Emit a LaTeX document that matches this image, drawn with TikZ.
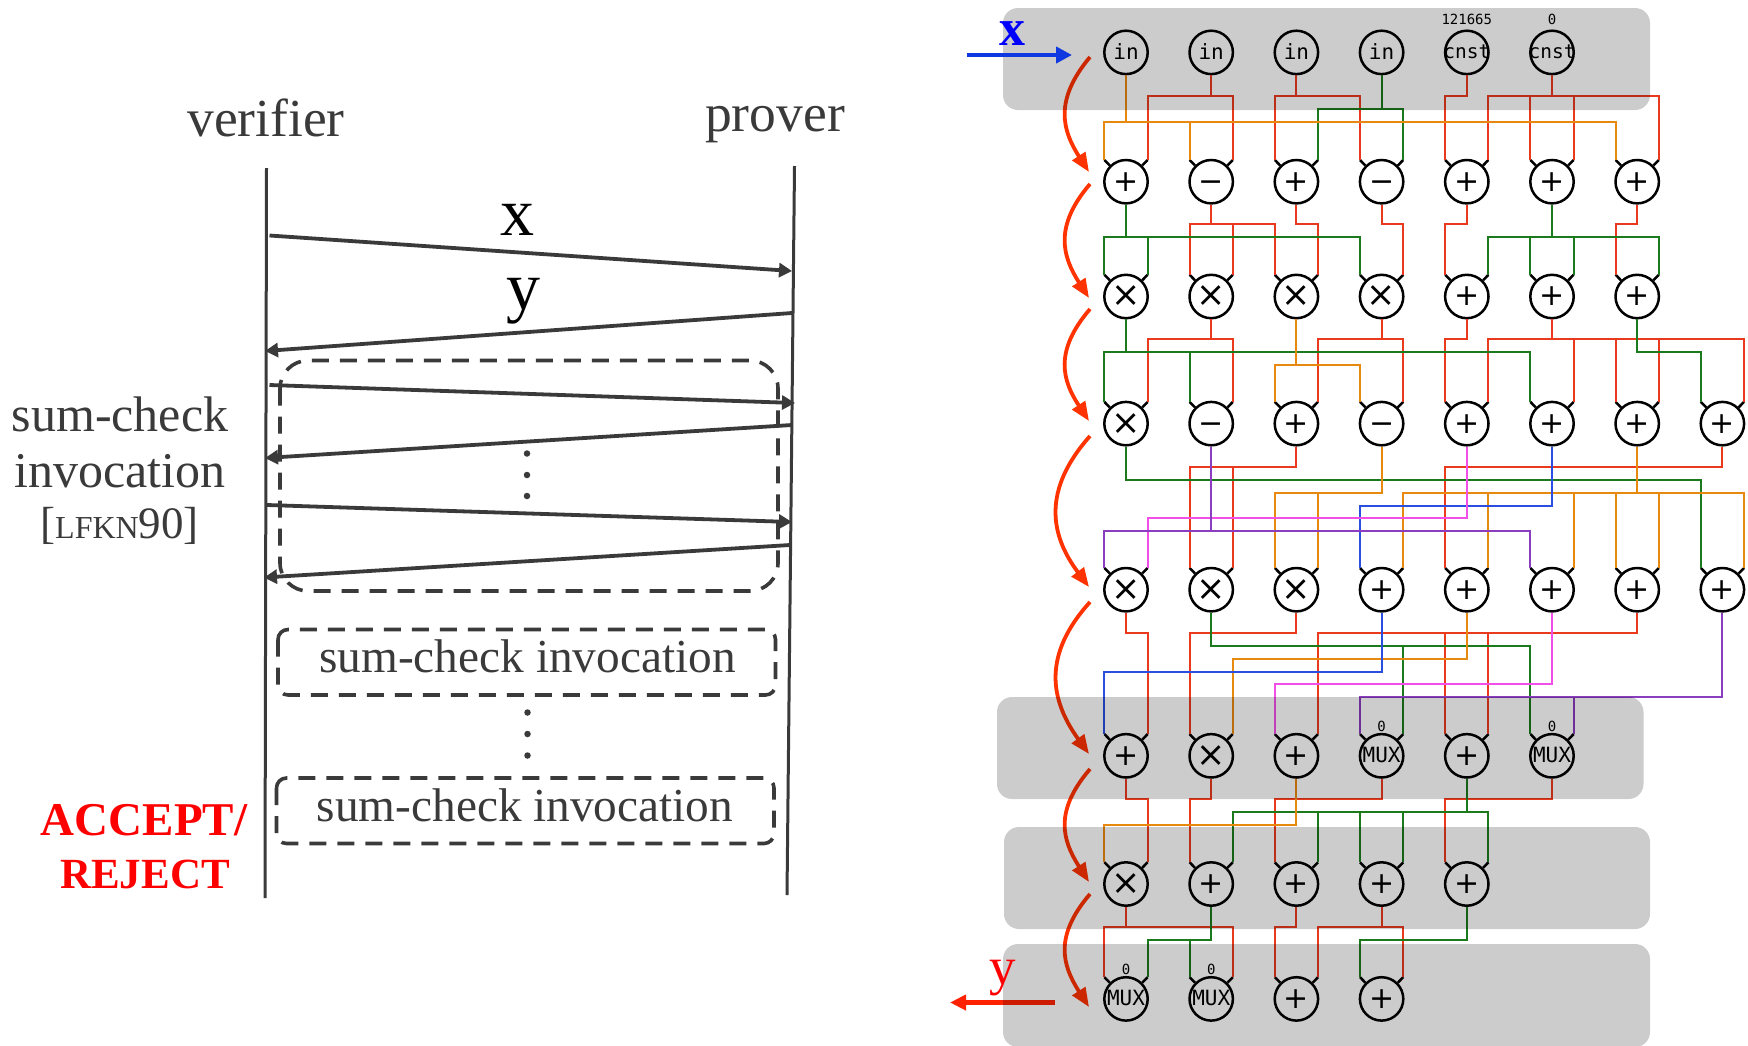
\documentclass[tikz,border=0pt]{standalone}
\usepackage{fontspec}
\setmainfont{Liberation Serif}
\newfontfamily\monofam{DejaVu Sans Mono}
\newfontfamily\opfam{DejaVu Sans}
\usetikzlibrary{calc,arrows.meta}
\definecolor{ink}{HTML}{3A3A3A}
\definecolor{wred}{HTML}{EA3A1E}
\definecolor{worange}{HTML}{E8890F}
\definecolor{wgreen}{HTML}{1B7A1B}
\definecolor{wblue}{HTML}{2A4FE0}
\definecolor{wpurple}{HTML}{8A3DBE}
\definecolor{wpink}{HTML}{F24FE8}
\definecolor{flow}{HTML}{FF3300}
\definecolor{inblue}{HTML}{1038E0}
\definecolor{outred}{HTML}{FF2200}
\newcommand{\fs}[1]{\fontsize{#1}{#1}\selectfont}
\newcommand{\plusop}{\makebox[0pt]{\opfam\fs{30}+}}
\newcommand{\minusop}{\makebox[0pt]{\opfam\fs{30}\vphantom{+}−}}
\newcommand{\timesop}{\makebox[0pt]{\opfam\fs{35}×}}
\newcommand{\muxop}{\raisebox{1.5pt}{\makebox[0pt]{\monofam\fs{21}MUX}}}
\newcommand{\inop}{\raisebox{1.5pt}{\makebox[0pt]{\monofam\fs{21}in}}}
\newcommand{\cnstop}{\raisebox{2pt}{\makebox[0pt]{\monofam\fs{19.5}cnst}}}
% name, column, row y, label
\newcommand{\gatetop}[4]{\node[gatenode] (#1) at ({1126+85.2*#2},#3) {#4};}
\newcommand{\gate}[4]{\gatetop{#1}{#2}{#3}{#4}
  \coordinate (#1-L) at ($(#1)+(-21.6,-21.7)$);
  \coordinate (#1-R) at ($(#1)+(21.6,-21.7)$);
  \draw[horn] (#1-L) -- (#1.north west);
  \draw[horn] (#1-R) -- (#1.north east);}
% colour, source gate, bus level, target ports
\newcommand{\wire}[4]{\foreach \t in {#4}{\draw[wirepath,#1] (#2.south) -- (#2.south |- 0,#3) -- (\t |- 0,#3) -- (\t);}}
\tikzset{
  gatenode/.style={circle,draw=black,fill=white,line width=2.5pt,minimum size=43.4pt,inner sep=0pt,text=black},
  horn/.style={draw=black,line width=2.5pt},
  wirepath/.style={line width=2pt,miter limit=10},
  panel/.style={fill=black,fill opacity=0.2,rounded corners=15pt,draw=none},
  flowarrow/.style={flow,line width=3.8pt,-{Triangle[length=19pt,width=15pt]}},
  msg/.style={ink,line width=3.8pt,-{Triangle[length=13pt,width=14pt]}},
  life/.style={ink,line width=3pt},
  dashbox/.style={draw=ink,line width=3.6pt,dash pattern=on 17pt off 11pt},
  serif/.style={text=ink,inner sep=0pt,align=center},
  dotmark/.style={circle,fill=ink,inner sep=0pt,minimum size=6.5pt}
}
\begin{document}
\begin{tikzpicture}[x=1pt,y=-1pt]
\useasboundingbox (0,0) rectangle (1748,1045);
% ---------- left: protocol ----------
\coordinate (vtop) at (266.5,168); \coordinate (vbot) at (265,898);
\coordinate (ptop) at (794.5,166); \coordinate (pbot) at (787,895);
\draw[life] (vtop) -- (vbot);
\draw[life] (ptop) -- (pbot);
\node[serif,font=\fs{53.5}] (verifier) at (266,118) {verifier};
\node[serif,font=\fs{53.5}] (prover) at (775,125) {prover};
\node[anchor=base,inner sep=0pt,font=\fs{68},text=black] (msgx) at (517,235) {x};
\node[anchor=base,inner sep=0pt,font=\fs{68},text=black] (msgy) at (523,309) {y};
\coordinate (m1a) at (269.5,235.5); \coordinate (m1b) at (792,271);
\coordinate (m2a) at (792,313); \coordinate (m2b) at (265,351);
\coordinate (m3a) at (269.5,385); \coordinate (m3b) at (795,403);
\coordinate (m4a) at (792,425); \coordinate (m4b) at (265,458);
\coordinate (m5a) at (267,505); \coordinate (m5b) at (792,522);
\coordinate (m6a) at (790,545); \coordinate (m6b) at (264,577.5);
\draw[msg] (m1a) -- (m1b);
\draw[msg] (m2a) -- (m2b);
\draw[msg] (m3a) -- (m3b);
\draw[msg] (m4a) -- (m4b);
\draw[msg] (m5a) -- (m5b);
\draw[msg] (m6a) -- (m6b);
\draw[dashbox,rounded corners=28pt] (280,360.5) rectangle (778,591);
\draw[dashbox,rounded corners=10pt] (278,629.5) rectangle (775.5,695);
\draw[dashbox,rounded corners=10pt] (276.5,778) rectangle (774,843.5);
\node[serif,font=\fs{47.3}] (sc1) at (527.5,656) {sum-check invocation};
\node[serif,font=\fs{47.3}] (sc2) at (525,805) {sum-check invocation};
\node[dotmark] (d1) at (527,453.5) {}; \node[dotmark] (d2) at (527,475) {}; \node[dotmark] (d3) at (527,496) {};
\node[dotmark] (d4) at (527.5,712.5) {}; \node[dotmark] (d5) at (527.5,734) {}; \node[dotmark] (d6) at (527.5,755.5) {};
\node[serif,font=\fs{50}] (sc3) at (120,414) {sum-check};
\node[serif,font=\fs{50}] (sc4) at (120,471) {invocation};
\node[serif,font=\fs{45}] (cite) at (119.5,526) {[{\fs{32}LFKN}90]};
\node[inner sep=0pt,text=red,font=\fs{47}\bfseries] (acc) at (144,820) {ACCEPT/};
\node[inner sep=0pt,text=red,font=\fs{43}\bfseries] (rej) at (145,874) {REJECT};
% ---------- right: circuit ----------
\def\ra{52.4}\def\rb{181.7}\def\rc{296.5}\def\rd{423.6}\def\re{589.7}\def\rf{755.8}\def\rg{884}\def\rh{998.9}
\gatetop{a0}{0}{\ra}{\inop}\gatetop{a1}{1}{\ra}{\inop}\gatetop{a2}{2}{\ra}{\inop}\gatetop{a3}{3}{\ra}{\inop}\gatetop{a4}{4}{\ra}{\cnstop}\gatetop{a5}{5}{\ra}{\cnstop}
\gate{b0}{0}{\rb}{\plusop}\gate{b1}{1}{\rb}{\minusop}\gate{b2}{2}{\rb}{\plusop}\gate{b3}{3}{\rb}{\minusop}\gate{b4}{4}{\rb}{\plusop}\gate{b5}{5}{\rb}{\plusop}\gate{b6}{6}{\rb}{\plusop}
\gate{c0}{0}{\rc}{\timesop}\gate{c1}{1}{\rc}{\timesop}\gate{c2}{2}{\rc}{\timesop}\gate{c3}{3}{\rc}{\timesop}\gate{c4}{4}{\rc}{\plusop}\gate{c5}{5}{\rc}{\plusop}\gate{c6}{6}{\rc}{\plusop}
\gate{d0}{0}{\rd}{\timesop}\gate{d1}{1}{\rd}{\minusop}\gate{d2}{2}{\rd}{\plusop}\gate{d3}{3}{\rd}{\minusop}\gate{d4}{4}{\rd}{\plusop}\gate{d5}{5}{\rd}{\plusop}\gate{d6}{6}{\rd}{\plusop}\gate{d7}{7}{\rd}{\plusop}
\gate{e0}{0}{\re}{\timesop}\gate{e1}{1}{\re}{\timesop}\gate{e2}{2}{\re}{\timesop}\gate{e3}{3}{\re}{\plusop}\gate{e4}{4}{\re}{\plusop}\gate{e5}{5}{\re}{\plusop}\gate{e6}{6}{\re}{\plusop}\gate{e7}{7}{\re}{\plusop}
\gate{f0}{0}{\rf}{\plusop}\gate{f1}{1}{\rf}{\timesop}\gate{f2}{2}{\rf}{\plusop}\gate{f3}{3}{\rf}{\muxop}\gate{f4}{4}{\rf}{\plusop}\gate{f5}{5}{\rf}{\muxop}
\gate{g0}{0}{\rg}{\timesop}\gate{g1}{1}{\rg}{\plusop}\gate{g2}{2}{\rg}{\plusop}\gate{g3}{3}{\rg}{\plusop}\gate{g4}{4}{\rg}{\plusop}
\gate{h0}{0}{\rh}{\muxop}\gate{h1}{1}{\rh}{\muxop}\gate{h2}{2}{\rh}{\plusop}\gate{h3}{3}{\rh}{\plusop}
% constants
\node[inner sep=0pt,font=\monofam\fs{14}] (k1) at (a4 |- 0,19) {121665};
\node[inner sep=0pt,font=\monofam\fs{14}] (k2) at (a5 |- 0,19) {0};
\node[inner sep=0pt,font=\monofam\fs{14}] (k3) at (f3 |- 0,726.5) {0};
\node[inner sep=0pt,font=\monofam\fs{14}] (k4) at (f5 |- 0,726.5) {0};
\node[inner sep=0pt,font=\monofam\fs{14}] (k5) at (h0 |- 0,969.5) {0};
\node[inner sep=0pt,font=\monofam\fs{14}] (k6) at (h1 |- 0,969.5) {0};
% wires a -> b
\wire{wred}{a1}{96}{b0-R,b1-R}
\wire{wred}{a2}{96}{b2-L,b3-L}
\wire{wred}{a4}{96}{b4-L}
\wire{wred}{a5}{96}{b4-R,b5-L,b5-R,b6-R}
\wire{wgreen}{a3}{109}{b2-R,b3-R}
\wire{worange}{a0}{122}{b0-L,b1-L,b6-L}
% b -> c
\wire{wred}{b1}{224}{c1-L,c1-R,c2-L}
\wire{wred}{b2}{224}{c2-R}
\wire{wred}{b3}{224}{c3-R}
\wire{wred}{b4}{224}{c4-L}
\wire{wred}{b6}{224}{c6-L}
\wire{wgreen}{b0}{237}{c0-L,c0-R,c3-L}
\wire{wgreen}{b5}{237}{c4-R,c5-L,c5-R,c6-R}
% c -> d
\wire{wred}{c1}{339.3}{d0-R,d1-R}
\wire{wred}{c3}{339.3}{d2-R,d3-R}
\wire{wred}{c4}{339.3}{d4-L}
\wire{wred}{c5}{339.3}{d4-R,d5-R,d6-L,d6-R,d7-R}
\wire{wgreen}{c0}{352}{d0-L,d1-L,d5-L}
\wire{wgreen}{c6}{352}{d7-L}
\wire{worange}{c2}{364.7}{d2-L,d3-L}
% d -> e
\wire{wred}{d2}{466.7}{e1-L,e1-R}
\wire{wred}{d7}{466.7}{e4-L}
\wire{wgreen}{d0}{480}{e7-L}
\wire{worange}{d3}{492.7}{e2-L,e2-R}
\wire{worange}{d6}{492.7}{e3-R,e4-R,e5-R,e6-L,e6-R,e7-R}
\wire{wblue}{d5}{505.7}{e3-L}
\wire{wpink}{d4}{518}{e0-R}
\wire{wpurple}{d1}{530.7}{e0-L,e5-L}
% e -> f
\wire{wred}{e0}{633}{f0-R}
\wire{wred}{e2}{633}{f1-L}
\wire{wred}{e6}{633}{f2-R,f4-L,f4-R}
\wire{wgreen}{e1}{646}{f3-R,f5-L}
\wire{worange}{e4}{659}{f1-R}
\wire{wblue}{e3}{671.7}{f0-L}
\wire{wpink}{e5}{684.3}{f2-L}
\wire{wpurple}{e7}{697}{f3-L,f5-R}
% f -> g
\wire{wred}{f0}{799.3}{g0-R}
\wire{wred}{f1}{799.3}{g1-L}
\wire{wred}{f3}{799.3}{g2-L}
\wire{wred}{f5}{799.3}{g4-L}
\wire{wgreen}{f4}{812.3}{g1-R,g2-R,g3-L,g3-R,g4-R}
\wire{worange}{f2}{825}{g0-L}
% g -> h
\wire{wred}{g0}{927}{h0-L,h1-R}
\wire{wred}{g2}{927}{h2-L}
\wire{wred}{g3}{927}{h2-R,h3-R}
\wire{wgreen}{g1}{940}{h0-R,h1-L}
\wire{wgreen}{g4}{940}{h3-L}
% flow arrows
\coordinate (f1a) at (1090,57); \coordinate (f1b) at (1089,172);
\coordinate (f2a) at (1090,184); \coordinate (f2b) at (1089,298);
\coordinate (f3a) at (1090,309); \coordinate (f3b) at (1089,421);
\coordinate (f4a) at (1090,436); \coordinate (f4b) at (1089,587);
\coordinate (f5a) at (1090,602); \coordinate (f5b) at (1089,754);
\coordinate (f6a) at (1090,769); \coordinate (f6b) at (1089,882);
\coordinate (f7a) at (1090,894); \coordinate (f7b) at (1089,1007);
\draw[flowarrow] (f1a) .. controls (1054,100) and (1062,130) .. (f1b);
\draw[flowarrow] (f2a) .. controls (1054,226) and (1062,256) .. (f2b);
\draw[flowarrow] (f3a) .. controls (1054,351) and (1062,380) .. (f3b);
\draw[flowarrow] (f4a) .. controls (1042,490) and (1050,535) .. (f4b);
\draw[flowarrow] (f5a) .. controls (1042,655) and (1050,700) .. (f5b);
\draw[flowarrow] (f6a) .. controls (1054,811) and (1062,840) .. (f6b);
\draw[flowarrow] (f7a) .. controls (1054,936) and (1062,965) .. (f7b);
% output arrow lies under the panel
\coordinate (ys) at (1055,1002.5); \coordinate (ye) at (950,1002.5);
\draw[line width=4.5pt,color=outred,-{Triangle[length=16pt,width=15pt]}] (ys) -- (ye);
% overlay panels
\fill[panel] (1003,8) rectangle (1650,110);
\fill[panel] (997,697) rectangle (1643.5,799);
\fill[panel] (1004,827) rectangle (1650,929);
\fill[panel] (1003,944) rectangle (1650,1047);
% input and labels
\coordinate (xs) at (966.5,55); \coordinate (xe) at (1072,55);
\draw[line width=4.2pt,color=inblue,-{Triangle[length=16pt,width=16pt]}] (xs) -- (xe);
\node[inner sep=0pt,anchor=base,font=\fs{52}\bfseries,text=blue] (ix) at (1012.5,45) {x};
\node[inner sep=0pt,anchor=base,font=\fs{53},text=red] (oy) at (1003,984.5) {y};
\end{tikzpicture}
\end{document}
